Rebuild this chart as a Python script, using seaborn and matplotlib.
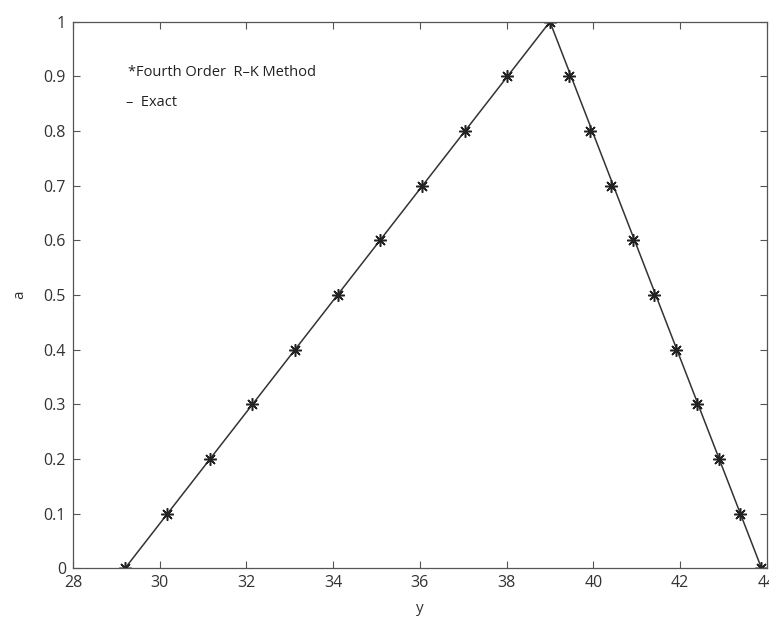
import matplotlib
matplotlib.use("Agg")
import matplotlib.pyplot as plt
import seaborn as sns
import pandas as pd

# Data
a_levels = [0.0, 0.1, 0.2, 0.3, 0.4, 0.5, 0.6, 0.7, 0.8, 0.9, 1.0]
y_left = [29.2, 30.17, 31.15, 32.13, 33.11, 34.1, 35.08, 36.06, 37.04, 38.02, 39.0]
y_right = [43.88, 43.39, 42.9, 42.4, 41.9, 41.41, 40.92, 40.42, 39.93, 39.45, 39.0]
exact_y = [29.2, 39.0, 43.88]
exact_a = [0.0, 1.0, 0.0]

xticks = [28, 30, 32, 34, 36, 38, 40, 42, 44]
yticks = [0, 0.1, 0.2, 0.3, 0.4, 0.5, 0.6, 0.7, 0.8, 0.9, 1]
ytick_labels = ["0", "0.1", "0.2", "0.3", "0.4", "0.5", "0.6", "0.7", "0.8", "0.9", "1"]

sns.set_style("white")
plt.rcParams['font.family'] = ['Open Sans', 'DejaVu Sans']

rk = pd.DataFrame({"y": y_left + y_right[:-1], "a": a_levels + a_levels[:-1]})
rk = rk.sort_values("y")
ex = pd.DataFrame({"y": exact_y, "a": exact_a})

fig = plt.figure(figsize=(7.69, 6.21), dpi=100)
ax = fig.add_axes([0.095, 0.085, 0.902, 0.88])

sns.lineplot(data=ex, x="y", y="a", color="#333333", linewidth=1.1, ax=ax, sort=False)
sns.lineplot(data=rk, x="y", y="a", color="#222222", marker=(8, 2, 0), markersize=9,
             markeredgewidth=1.1, markeredgecolor="#222222", markerfacecolor="#222222",
             linestyle="", ax=ax, sort=False)

ax.set_xlim(28, 44)
ax.set_ylim(0, 1)
ax.set_xticks(xticks)
ax.set_xticklabels([str(t) for t in xticks])
ax.set_yticks(yticks)
ax.set_yticklabels(ytick_labels)
ax.tick_params(direction="in", length=5, width=0.8, color="#555555",
               labelsize=11.5, labelcolor="#333333", top=True, right=True,
               bottom=True, left=True, pad=5)
for s in ax.spines.values():
    s.set_color("#555555")
    s.set_linewidth(0.9)
ax.set_xlabel("y", fontsize=11, color="#333333", labelpad=7)
ax.set_ylabel("a", fontsize=11, color="#333333", labelpad=12)

ax.text(0.079, 0.908, "*Fourth Order  R\u2013K Method", transform=ax.transAxes,
        fontsize=10.5, color="#222222", va="center", ha="left")
ax.text(0.077, 0.852, "\u2013  Exact", transform=ax.transAxes,
        fontsize=10.5, color="#222222", va="center", ha="left")

fig.savefig("out.png", dpi=100)
